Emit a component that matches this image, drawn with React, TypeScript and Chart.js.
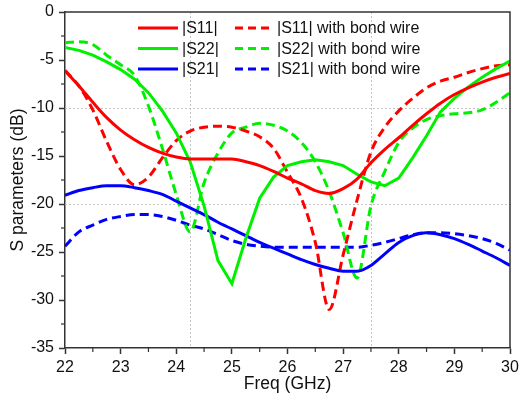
import { useEffect, useRef } from 'react';
import { Chart, registerables } from 'chart.js';

Chart.register(...registerables);

// Frequency grid (GHz)
const freqs = [
  22, 22.25, 22.5, 22.75, 23, 23.25, 23.5, 23.75, 24, 24.25, 24.5, 24.75, 25, 25.25, 25.5, 25.75,
  26, 26.25, 26.5, 26.75, 27, 27.25, 27.5, 27.75, 28, 28.25, 28.5, 28.75, 29, 29.25, 29.5, 29.75, 30,
];

// S-parameters (dB)
const s11 = [
  -6.1, -7.7, -9.4, -11.0, -12.3, -13.3, -14.1, -14.7, -15.1, -15.3,
  -15.3, -15.3, -15.3, -15.6, -16.0, -16.6, -17.3, -17.9, -18.6, -18.9,
  -18.4, -17.4, -15.7, -14.3, -13.1, -11.8, -10.6, -9.5, -8.6, -7.9,
  -7.3, -6.8, -6.4,
];
const s22 = [
  -3.7, -4.0, -4.5, -5.2, -6.0, -7.0, -8.4, -10.3, -12.6, -15.6,
  -20.2, -25.9, -28.3, -23.6, -19.4, -17.2, -16.0, -15.6, -15.4, -15.6,
  -16.0, -16.9, -17.7, -18.1, -17.3, -15.2, -12.9, -10.4, -9.0, -7.8,
  -6.8, -5.9, -5.1,
];
const s21 = [
  -19.1, -18.6, -18.3, -18.1, -18.1, -18.3, -18.6, -19.0, -19.7, -20.4,
  -21.1, -21.9, -22.6, -23.3, -24.0, -24.6, -25.2, -25.8, -26.3, -26.7,
  -27.0, -27.0, -26.4, -25.2, -24.0, -23.3, -23.0, -23.2, -23.6, -24.2,
  -24.9, -25.6, -26.4,
];
const s11Bond = [
  -6.1, -7.7, -10.2, -13.5, -16.4, -18.0, -17.2, -15.2, -13.4, -12.4,
  -12.0, -11.9, -12.0, -12.4, -13.0, -14.2, -16.7, -19.4, -24.0, -31.0,
  -25.3, -19.6, -14.6, -12.0, -10.3, -9.0, -7.9, -7.2, -6.8, -6.3,
  -5.9, -5.6, -5.5,
];
const s22Bond = [
  -3.2, -3.1, -3.4, -4.5, -5.5, -6.6, -9.8, -14.2, -19.0, -22.9,
  -17.8, -14.7, -12.6, -12.0, -11.6, -11.8, -12.4, -13.6, -15.6, -18.7,
  -23.0, -27.7, -20.2, -16.6, -13.6, -12.1, -11.2, -10.8, -10.6, -10.5,
  -10.2, -9.4, -8.4,
];
const s21Bond = [
  -24.4, -22.9, -22.2, -21.6, -21.3, -21.1, -21.1, -21.3, -21.7, -22.2,
  -22.6, -23.2, -23.8, -24.2, -24.4, -24.5, -24.5, -24.5, -24.5, -24.5,
  -24.5, -24.5, -24.3, -24.0, -23.6, -23.2, -23.0, -23.0, -23.1, -23.3,
  -23.6, -24.1, -24.8,
];

const seriesLabels = ['|S11|', '|S22|', '|S21|', '|S11| with bond wire', '|S22| with bond wire', '|S21| with bond wire'];
const seriesValues = [s11, s22, s21, s11Bond, s22Bond, s21Bond];
const seriesColors = ['#ff0000', '#00f000', '#0000ff', '#ff0000', '#00f000', '#0000ff'];
const seriesDashed = [false, false, false, true, true, true];

const markerFreqs = [24.25, 27.5];
const markerLevels = [-10, -20];

const xMin = 22, xMax = 30, xStep = 1;
const yMin = -35, yMax = 0, yStep = 5;

const FONT = "'Liberation Sans', Arial, sans-serif";
const AXIS_COLOR = '#333333';
const DASH = [9, 5];

const decorPlugin = {
  id: 'decor',
  beforeDatasetsDraw(chart: any) {
    const { ctx, chartArea: a, scales } = chart;
    const x = scales.x, y = scales.y;
    ctx.save();
    ctx.strokeStyle = '#c4c4c4';
    ctx.lineWidth = 1;
    ctx.setLineDash([2, 2]);
    markerFreqs.forEach((f) => {
      const px = Math.round(x.getPixelForValue(f)) + 0.5;
      ctx.beginPath(); ctx.moveTo(px, a.top); ctx.lineTo(px, a.bottom); ctx.stroke();
    });
    markerLevels.forEach((v) => {
      const py = Math.round(y.getPixelForValue(v)) + 0.5;
      ctx.beginPath(); ctx.moveTo(a.left, py); ctx.lineTo(a.right, py); ctx.stroke();
    });
    ctx.restore();
  },
  afterDatasetsDraw(chart: any) {
    const { ctx, chartArea: a, scales } = chart;
    const x = scales.x, y = scales.y;
    ctx.save();
    // frame top & right
    ctx.strokeStyle = AXIS_COLOR;
    ctx.lineWidth = 1.5;
    ctx.beginPath();
    ctx.moveTo(a.left, a.top); ctx.lineTo(a.right, a.top); ctx.lineTo(a.right, a.bottom);
    ctx.stroke();
    // minor ticks
    ctx.lineWidth = 1.2;
    for (let v = xMin + xStep / 2; v < xMax; v += xStep) {
      const px = x.getPixelForValue(v);
      ctx.beginPath(); ctx.moveTo(px, a.bottom); ctx.lineTo(px, a.bottom + 4); ctx.stroke();
    }
    for (let v = yMin + yStep / 2; v < yMax; v += yStep) {
      const py = y.getPixelForValue(v);
      ctx.beginPath(); ctx.moveTo(a.left, py); ctx.lineTo(a.left - 4, py); ctx.stroke();
    }
    // legend (two columns)
    const colLine = [73, 170];
    const colLen = [40, 36];
    const colText = [117, 212];
    const rowY = [16, 36.5, 57];
    ctx.font = `16px ${FONT}`;
    ctx.textBaseline = 'middle';
    ctx.textAlign = 'left';
    seriesLabels.forEach((label, i) => {
      const col = i < 3 ? 0 : 1;
      const row = i % 3;
      const ly = a.top + rowY[row];
      const lx = a.left + colLine[col];
      ctx.strokeStyle = seriesColors[i];
      ctx.lineWidth = 3;
      ctx.setLineDash(seriesDashed[i] ? [8, 5] : []);
      ctx.beginPath(); ctx.moveTo(lx, ly); ctx.lineTo(lx + colLen[col], ly); ctx.stroke();
      ctx.setLineDash([]);
      ctx.fillStyle = '#111111';
      ctx.fillText(label, a.left + colText[col], ly + 1);
    });
    ctx.restore();
  },
};

export default function App() {
  const canvasRef = useRef<HTMLCanvasElement | null>(null);

  useEffect(() => {
    if (!canvasRef.current) return;
    Chart.defaults.font.family = FONT;
    const datasets = seriesLabels.map((label, i) => ({
      label,
      data: freqs.map((f, k) => ({ x: f, y: seriesValues[i][k] })),
      borderColor: seriesColors[i],
      backgroundColor: seriesColors[i],
      borderWidth: 3,
      borderDash: seriesDashed[i] ? DASH : [],
      pointRadius: 0,
      fill: false,
      cubicInterpolationMode: i === 1 ? 'default' : 'monotone',
      tension: i === 1 ? 0 : 0.4,
    }));
    const chart = new Chart(canvasRef.current, {
      type: 'line',
      data: { datasets } as any,
      options: {
        animation: false,
        responsive: false,
        devicePixelRatio: 1,
        layout: { padding: { top: 12, right: 9, left: 0, bottom: 0 } },
        plugins: { legend: { display: false }, tooltip: { enabled: false } },
        scales: {
          x: {
            type: 'linear',
            min: xMin,
            max: xMax,
            afterFit: (s: any) => { s.height = 52; s.paddingRight = 0; s.paddingLeft = 0; },
            ticks: { stepSize: xStep, color: '#111111', font: { size: 16 }, padding: 4, maxRotation: 0 },
            grid: { drawOnChartArea: false, drawTicks: true, tickLength: 6, tickColor: AXIS_COLOR, tickWidth: 1.5 },
            border: { color: AXIS_COLOR, width: 1.5 },
            title: { display: true, text: 'Freq (GHz)', color: '#111111', font: { size: 17.5 }, padding: { top: 0, bottom: 5 } },
          },
          y: {
            type: 'linear',
            min: yMin,
            max: yMax,
            afterFit: (s: any) => { s.width = 65; s.paddingTop = 0; s.paddingBottom = 0; },
            ticks: { stepSize: yStep, color: '#111111', font: { size: 16 }, padding: 5 },
            grid: { drawOnChartArea: false, drawTicks: true, tickLength: 6, tickColor: AXIS_COLOR, tickWidth: 1.5 },
            border: { color: AXIS_COLOR, width: 1.5 },
            title: { display: true, text: 'S parameters (dB)', color: '#111111', font: { size: 17.5 }, padding: { top: 8, bottom: 0 } },
          },
        },
      },
      plugins: [decorPlugin],
    } as any);
    return () => chart.destroy();
  }, []);

  return (
    <div style={{ position: 'absolute', left: 0, top: 0, width: 519, height: 400, background: '#ffffff' }}>
      <canvas ref={canvasRef} width={519} height={400} style={{ display: 'block' }} />
    </div>
  );
}
